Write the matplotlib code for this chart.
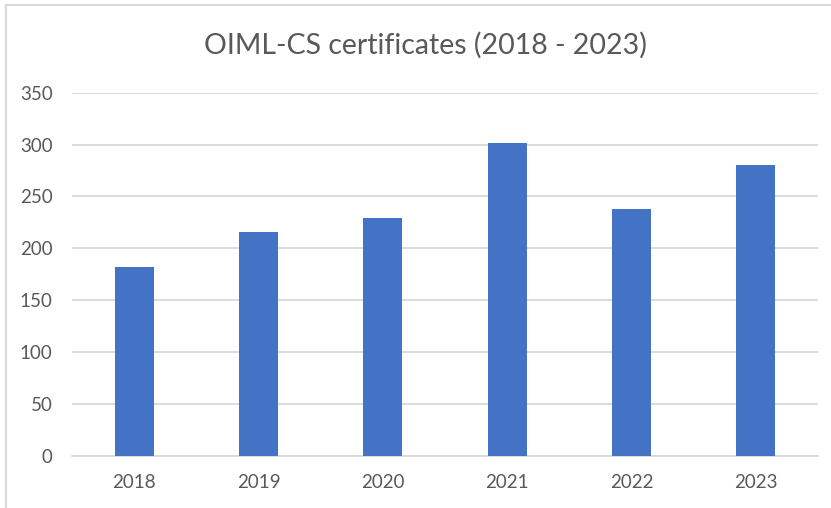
import matplotlib
matplotlib.use("Agg")
import matplotlib.pyplot as plt
from matplotlib.lines import Line2D

# OIML-CS certificates per year
years = ["2018", "2019", "2020", "2021", "2022", "2023"]
certificates = [182, 216, 229, 301, 238, 280]
y_ticks = [0, 50, 100, 150, 200, 250, 300, 350]

BAR_COLOR = "#4472C4"
TEXT_COLOR = "#595959"
GRID_COLOR = "#d9d9d9"

plt.rcParams["font.family"] = ["Lato", "DejaVu Sans"]

fig = plt.figure(figsize=(8.31, 5.08), dpi=100)
ax = fig.add_axes([0.0866, 0.1030, 0.8977, 0.7146])

x = range(len(years))
ax.bar(x, certificates, width=0.315, color=BAR_COLOR, zorder=3)

ax.set_xlim(-0.5, len(years) - 0.5)
ax.set_ylim(0, 350)
ax.set_yticks(y_ticks)
ax.set_xticks(list(x))
ax.set_xticklabels(years)

ax.grid(axis="y", color=GRID_COLOR, linewidth=1.3, zorder=0)
for side in ["top", "right", "left"]:
    ax.spines[side].set_visible(False)
ax.spines["bottom"].set_color(GRID_COLOR)
ax.spines["bottom"].set_linewidth(1.3)
ax.tick_params(axis="both", length=0, labelsize=13.5, colors=TEXT_COLOR)
ax.tick_params(axis="x", pad=13)
ax.tick_params(axis="y", pad=14)

fig.text(425 / 831, 1 - 45 / 508, "OIML-CS certificates (2018 - 2023)",
         ha="center", va="center", fontsize=20.5, color=TEXT_COLOR)

# frame of the chart area (only top and left edges are in the crop)
fig.add_artist(Line2D([6 / 831, 1], [1 - 5 / 508, 1 - 5 / 508],
                      transform=fig.transFigure, color=GRID_COLOR, linewidth=1.5))
fig.add_artist(Line2D([6 / 831, 6 / 831], [0, 1 - 5 / 508],
                      transform=fig.transFigure, color=GRID_COLOR, linewidth=1.5))

plt.savefig("out.png", dpi=100)
